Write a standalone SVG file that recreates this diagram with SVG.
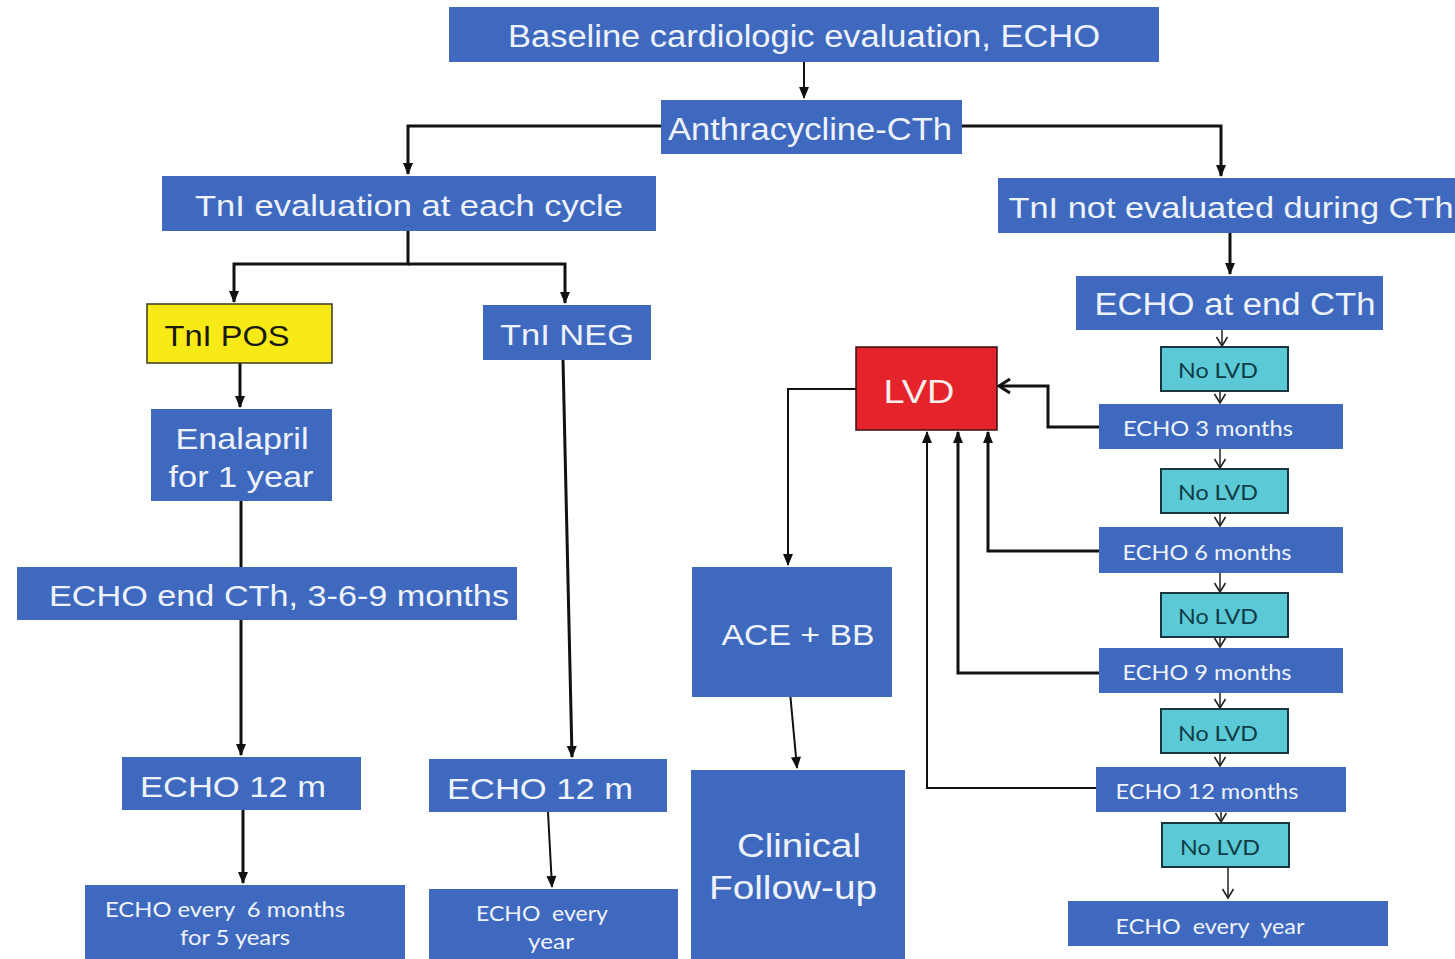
<svg xmlns="http://www.w3.org/2000/svg" width="1455" height="959" viewBox="0 0 1455 959">
<defs>
<style>
.b{fill:#3F69BF}
.t{font-family:"Liberation Sans",Arial,sans-serif;fill:#EEF3FB;text-anchor:middle}
.s{font-family:Lato,"Liberation Sans",sans-serif;fill:#EEF3FB;text-anchor:middle}
.cy{fill:#5CC9D6;stroke:#17363D;stroke-width:2}
.ct{font-family:Lato,"Liberation Sans",sans-serif;fill:#0E3C46;text-anchor:middle;font-size:21px}
.c{fill:none;stroke:#111;stroke-width:3}
.c2{fill:none;stroke:#111;stroke-width:2}
.v{fill:none;stroke:#222;stroke-width:1.5}
</style>
<marker id="a" markerUnits="userSpaceOnUse" markerWidth="14" markerHeight="14" viewBox="0 0 14 14" refX="12" refY="7" orient="auto">
<path d="M1,2 L13,7 L1,12 z" fill="#111"/>
</marker>
<marker id="o" markerUnits="userSpaceOnUse" markerWidth="14" markerHeight="14" viewBox="0 0 14 14" refX="12" refY="7" orient="auto">
<path d="M3,1.5 L12,7 L3,12.5" fill="none" stroke="#222" stroke-width="1.6"/>
</marker>
<marker id="ob" markerUnits="userSpaceOnUse" markerWidth="18" markerHeight="18" viewBox="0 0 18 18" refX="15" refY="9" orient="auto">
<path d="M4,2 L15,9 L4,16" fill="none" stroke="#111" stroke-width="3"/>
</marker>
</defs>
<rect width="1455" height="959" fill="#fff"/>

<g id="connectors">
<path class="c2" d="M804,62 V98" marker-end="url(#a)"/>
<path class="c" d="M661,126 H408 V174" marker-end="url(#a)"/>
<path class="c" d="M962,126 H1221 V176" marker-end="url(#a)"/>
<path class="c" d="M408,231 V264 H234 V302" marker-end="url(#a)"/>
<path class="c" d="M408,264 H565 V303" marker-end="url(#a)"/>
<path class="c" d="M240,363 V407" marker-end="url(#a)"/>
<path class="c" d="M241,501 V567"/>
<path class="c" d="M241,620 V755" marker-end="url(#a)"/>
<path class="c" d="M243,810 V883" marker-end="url(#a)"/>
<path class="c" d="M563,360 L572,757" marker-end="url(#a)"/>
<path class="c2" d="M548,812 L552,887" marker-end="url(#a)"/>
<path class="c" d="M1230,233 V274" marker-end="url(#a)"/>
<path class="v" d="M1222,330 V346" marker-end="url(#o)"/>
<path class="v" d="M1220,391 V403" marker-end="url(#o)"/>
<path class="v" d="M1220,449 V468" marker-end="url(#o)"/>
<path class="v" d="M1220,513 V526" marker-end="url(#o)"/>
<path class="v" d="M1220,573 V592" marker-end="url(#o)"/>
<path class="v" d="M1220,637 V647" marker-end="url(#o)"/>
<path class="v" d="M1220,693 V708" marker-end="url(#o)"/>
<path class="v" d="M1220,753 V766" marker-end="url(#o)"/>
<path class="v" d="M1221,812 V822" marker-end="url(#o)"/>
<path class="v" d="M1228,867 V898" marker-end="url(#o)"/>
<path class="c" d="M1099,427 H1048 V386 H999" marker-end="url(#ob)"/>
<path class="c" d="M1099,551 H988 V432" marker-end="url(#a)"/>
<path class="c" d="M1099,673 H958 V432" marker-end="url(#a)"/>
<path class="c2" d="M1096,788 H927 V432" marker-end="url(#a)"/>
<path class="c2" d="M856,389 H788 V565" marker-end="url(#a)"/>
<path class="c2" d="M790,692 L797,768" marker-end="url(#a)"/>
</g>

<g id="baseline"><rect class="b" x="449" y="7" width="710" height="55"/><text class="t" x="804" y="47" font-size="31" textLength="592" lengthAdjust="spacingAndGlyphs">Baseline cardiologic evaluation, ECHO</text></g>
<g id="anthra"><rect class="b" x="661" y="100" width="301" height="54"/><text class="t" x="810" y="140" font-size="31" textLength="284" lengthAdjust="spacingAndGlyphs">Anthracycline-CTh</text></g>
<g id="tni-eval"><rect class="b" x="162" y="176" width="494" height="55"/><text class="t" x="409" y="216" font-size="30" textLength="428" lengthAdjust="spacingAndGlyphs">TnI evaluation at each cycle</text></g>
<g id="tni-not"><rect class="b" x="998" y="178" width="457" height="55"/><text class="t" x="1231" y="218" font-size="30" textLength="445" lengthAdjust="spacingAndGlyphs">TnI not evaluated during CTh</text></g>
<g id="tni-pos"><rect x="147" y="304" width="185" height="59" fill="#F7EA17" stroke="#3a3a20" stroke-width="1.5"/><text x="227" y="346" font-size="30" font-family="Liberation Sans,Arial,sans-serif" fill="#1a1a10" text-anchor="middle" textLength="125" lengthAdjust="spacingAndGlyphs">TnI POS</text></g>
<g id="tni-neg"><rect class="b" x="483" y="305" width="168" height="55"/><text class="t" x="567" y="345" font-size="30" textLength="134" lengthAdjust="spacingAndGlyphs">TnI NEG</text></g>
<g id="enalapril"><rect class="b" x="151" y="409" width="181" height="92"/><text class="t" x="242" y="449" font-size="30" textLength="133" lengthAdjust="spacingAndGlyphs">Enalapril</text><text class="t" x="241" y="487" font-size="30" textLength="145" lengthAdjust="spacingAndGlyphs">for 1 year</text></g>
<g id="echo-end-369"><rect class="b" x="17" y="567" width="500" height="53"/><text class="t" x="279" y="606" font-size="30" textLength="460" lengthAdjust="spacingAndGlyphs">ECHO end CTh, 3-6-9 months</text></g>
<g id="echo12-left"><rect class="b" x="122" y="757" width="239" height="53"/><text class="t" x="233" y="797" font-size="30" textLength="186" lengthAdjust="spacingAndGlyphs">ECHO 12 m</text></g>
<g id="echo12-mid"><rect class="b" x="429" y="759" width="238" height="53"/><text class="t" x="540" y="799" font-size="30" textLength="186" lengthAdjust="spacingAndGlyphs">ECHO 12 m</text></g>
<g id="echo-6m-5y"><rect class="b" x="85" y="885" width="320" height="74"/><text class="s" x="225" y="917" font-size="21" textLength="240" lengthAdjust="spacingAndGlyphs" xml:space="preserve">ECHO every  6 months</text><text class="s" x="235" y="945" font-size="21" textLength="110" lengthAdjust="spacingAndGlyphs">for 5 years</text></g>
<g id="echo-every-year-mid"><rect class="b" x="429" y="889" width="249" height="70"/><text class="s" x="542" y="921" font-size="21" textLength="132" lengthAdjust="spacingAndGlyphs" xml:space="preserve">ECHO  every</text><text class="s" x="551" y="949" font-size="21" textLength="46" lengthAdjust="spacingAndGlyphs">year</text></g>
<g id="ace-bb"><rect class="b" x="692" y="567" width="200" height="130"/><text class="t" x="798" y="645" font-size="30" textLength="153" lengthAdjust="spacingAndGlyphs">ACE + BB</text></g>
<g id="clinical"><rect class="b" x="691" y="770" width="214" height="189"/><text class="t" x="799" y="857" font-size="34" textLength="124" lengthAdjust="spacingAndGlyphs">Clinical</text><text class="t" x="793" y="899" font-size="34" textLength="168" lengthAdjust="spacingAndGlyphs">Follow-up</text></g>
<g id="lvd"><rect x="856" y="347" width="141" height="83" fill="#E5232A" stroke="#3a1010" stroke-width="1.5"/><text x="919" y="403" font-size="33" font-family="Liberation Sans,Arial,sans-serif" fill="#F7EEEE" text-anchor="middle" textLength="71" lengthAdjust="spacingAndGlyphs">LVD</text></g>
<g id="echo-end-cth"><rect class="b" x="1076" y="276" width="307" height="54"/><text class="t" x="1235" y="315" font-size="31" textLength="281" lengthAdjust="spacingAndGlyphs">ECHO at end CTh</text></g>
<g id="nolvd1"><rect class="cy" x="1161" y="347" width="127" height="44"/><text class="ct" x="1218" y="378" textLength="80" lengthAdjust="spacingAndGlyphs">No LVD</text></g>
<g id="echo3"><rect class="b" x="1099" y="404" width="244" height="45"/><text class="s" x="1208" y="436" font-size="21" textLength="170" lengthAdjust="spacingAndGlyphs">ECHO 3 months</text></g>
<g id="nolvd2"><rect class="cy" x="1161" y="469" width="127" height="44"/><text class="ct" x="1218" y="500" textLength="80" lengthAdjust="spacingAndGlyphs">No LVD</text></g>
<g id="echo6"><rect class="b" x="1099" y="527" width="244" height="46"/><text class="s" x="1207" y="560" font-size="21" textLength="169" lengthAdjust="spacingAndGlyphs">ECHO 6 months</text></g>
<g id="nolvd3"><rect class="cy" x="1161" y="593" width="127" height="44"/><text class="ct" x="1218" y="624" textLength="80" lengthAdjust="spacingAndGlyphs">No LVD</text></g>
<g id="echo9"><rect class="b" x="1099" y="648" width="244" height="45"/><text class="s" x="1207" y="680" font-size="21" textLength="169" lengthAdjust="spacingAndGlyphs">ECHO 9 months</text></g>
<g id="nolvd4"><rect class="cy" x="1161" y="709" width="127" height="44"/><text class="ct" x="1218" y="741" textLength="80" lengthAdjust="spacingAndGlyphs">No LVD</text></g>
<g id="echo12"><rect class="b" x="1096" y="767" width="250" height="45"/><text class="s" x="1207" y="799" font-size="21" textLength="183" lengthAdjust="spacingAndGlyphs">ECHO 12 months</text></g>
<g id="nolvd5"><rect class="cy" x="1162" y="823" width="127" height="44"/><text class="ct" x="1220" y="855" textLength="80" lengthAdjust="spacingAndGlyphs">No LVD</text></g>
<g id="echo-every-year"><rect class="b" x="1068" y="901" width="320" height="45"/><text class="s" x="1210" y="934" font-size="21" textLength="189" lengthAdjust="spacingAndGlyphs" xml:space="preserve">ECHO  every  year</text></g>
</svg>
